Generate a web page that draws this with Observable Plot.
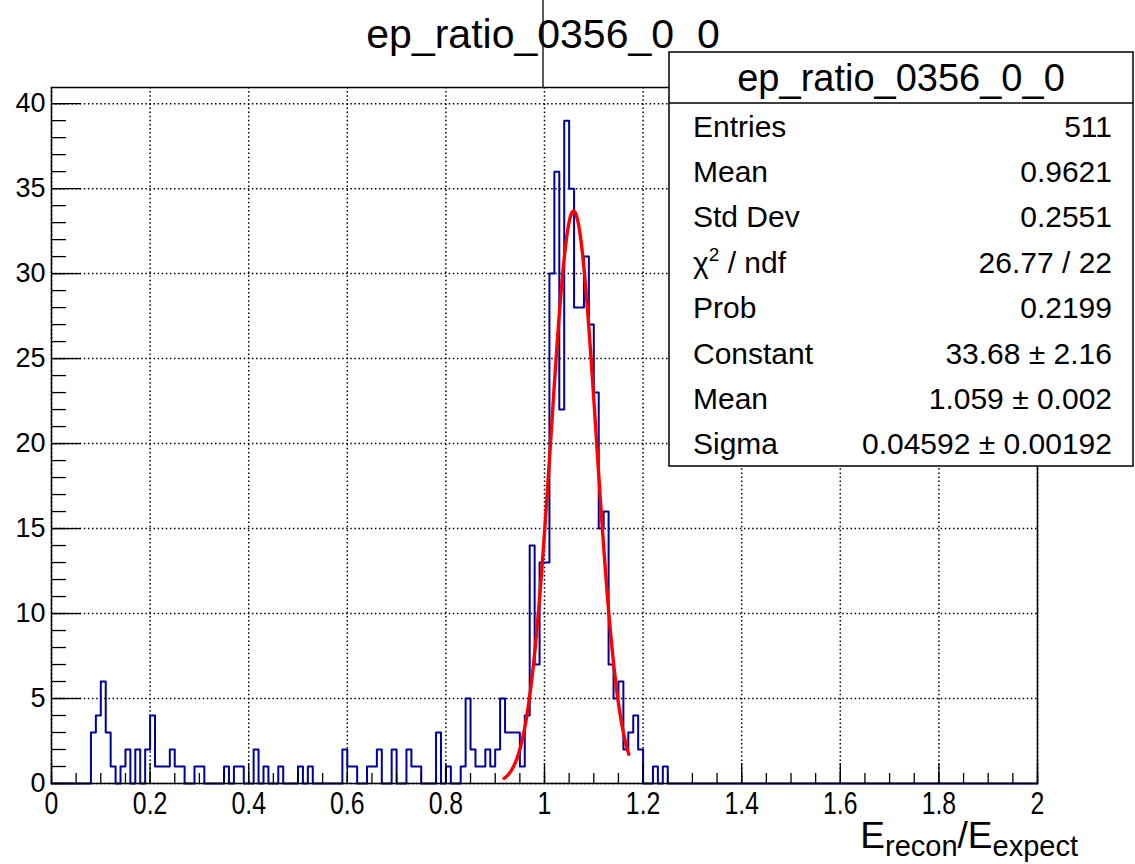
<!DOCTYPE html>
<html>
<head>
<meta charset="utf-8">
<script src="https://cdn.jsdelivr.net/npm/d3@7"></script>
<script src="https://cdn.jsdelivr.net/npm/@observablehq/plot@0.6"></script>
<style>
html,body{margin:0;padding:0;background:#fff;}
#chart{width:1135px;height:864px;overflow:hidden;}
</style>
</head>
<body>
<div id="chart"></div>
<script>
// ---- data ----
const histTitle = "ep_ratio_0356_0_0";
const xMin = 0, xMax = 2, binWidth = 0.01;
const yMax = 40.95;
// 200 bins of width 0.01 from 0 to 2
const counts = [
  0,0,0,0,0,0,0,0,3,4,   6,3,1,0,1,2,0,2,0,2,
  4,1,1,1,2,1,1,0,0,1,   1,0,0,0,0,1,0,1,1,0,
  0,2,0,1,0,0,1,0,0,0,   1,0,1,0,0,0,0,0,0,2,
  1,1,0,0,1,1,2,0,0,2,   0,0,2,1,1,0,0,0,3,0,
  1,0,0,1,5,2,1,1,2,1,   2,5,3,3,3,1,4,14,7,13,
  13,30,36,22,39,35,28,28,31,27, 23,15,16,7,5,6,2,3,4,2,
  0,0,1,0,1,0,0,0,0,0,   0,0,0,0,0,0,0,0,0,0,
  0,0,0,0,0,0,0,0,0,0,   0,0,0,0,0,0,0,0,0,0,
  0,0,0,0,0,0,0,0,0,0,   0,0,0,0,0,0,0,0,0,0,
  0,0,0,0,0,0,0,0,0,0,   0,0,0,0,0,0,0,0,0,0
];
// Gaussian fit parameters (from the stats box)
const fitConstant = 33.68, fitMean = 1.059, fitSigma = 0.04592;
const fitRange = [0.918, 1.171];

const xTickValues = [0, 0.2, 0.4, 0.6, 0.8, 1, 1.2, 1.4, 1.6, 1.8, 2];
const xTickLabels = ["0","0.2","0.4","0.6","0.8","1","1.2","1.4","1.6","1.8","2"];
const yTickValues = [0, 5, 10, 15, 20, 25, 30, 35, 40];
const yTickLabels = ["0","5","10","15","20","25","30","35","40"];

const statLabels = ["Entries","Mean","Std Dev","CHI2","Prob","Constant","Mean","Sigma"];
const statValues = ["511","0.9621","0.2551","26.77 / 22","0.2199","33.68 ± 2.16","1.059 ± 0.002","0.04592 ± 0.00192"];

// ---- derived tables ----
const histPoints = counts.map((c, i) => ({x: xMin + i * binWidth, y: c}));
histPoints.push({x: xMax, y: counts[counts.length - 1]});
const fitPoints = d3.range(0, 301).map(k => {
  const x = fitRange[0] + k * (fitRange[1] - fitRange[0]) / 300;
  return {x, y: fitConstant * Math.exp(-0.5 * ((x - fitMean) / fitSigma) ** 2)};
});
const xMinor = d3.range(0, 41).map(k => xMin + k * 0.05);
const yMinor = d3.range(0, 41);
const xLabelMap = new Map(xTickValues.map((v, i) => [v, xTickLabels[i]]));
const yLabelMap = new Map(yTickValues.map((v, i) => [v, yTickLabels[i]]));

// ---- layout ----
const W = 1135, H = 864;
const mL = 51, mR = 98, mT = 87, mB = 81;
const frameW = W - mL - mR, frameH = H - mT - mB;
const sans = "'Liberation Sans', Arial, Helvetica, sans-serif";

const plot = Plot.plot({
  width: W, height: H,
  marginLeft: mL, marginRight: mR, marginTop: mT, marginBottom: mB,
  x: {domain: [xMin, xMax]},
  y: {domain: [0, yMax]},
  style: {fontFamily: sans, background: "white", color: "black"},
  marks: [
    Plot.ruleX(xTickValues, {stroke: "black", strokeWidth: 1.5, strokeDasharray: "1.5,2.6"}),
    Plot.ruleY(yTickValues, {stroke: "black", strokeWidth: 1.5, strokeDasharray: "1.5,2.6"}),
    Plot.line(histPoints, {x: "x", y: "y", curve: "step-after", stroke: "#00009c", strokeWidth: 2}),
    Plot.line(fitPoints, {x: "x", y: "y", stroke: "#ff0000", strokeWidth: 3.4}),
    Plot.ruleX(xMinor, {insetTop: frameH - 10, stroke: "black", strokeWidth: 1.3}),
    Plot.ruleX(xTickValues, {insetTop: frameH - 20, stroke: "black", strokeWidth: 1.3}),
    Plot.ruleY(yMinor, {insetRight: frameW - 15, stroke: "black", strokeWidth: 1.3}),
    Plot.ruleY(yTickValues, {insetRight: frameW - 30, stroke: "black", strokeWidth: 1.3}),
    Plot.frame({stroke: "black", strokeWidth: 1.5}),
    Plot.axisY(yTickValues, {tickSize: 0, tickPadding: 6, fontSize: 27, fontFamily: sans, fill: "black",
      tickFormat: d => yLabelMap.get(d), label: null}),
    Plot.axisX(xTickValues, {tickSize: 0, tickPadding: 8, fontSize: 31, fontFamily: sans, fill: "black",
      tickFormat: d => xLabelMap.get(d), label: null})
  ]
});
document.getElementById("chart").appendChild(plot);

const svg = d3.select(plot);
// condense the x tick labels (narrow face in the reference)
svg.selectAll('g[aria-label="x-axis tick label"] text').each(function() {
  const w = this.getComputedTextLength();
  this.setAttribute("textLength", (w * 0.8).toFixed(1));
  this.setAttribute("lengthAdjust", "spacingAndGlyphs");
});

// stray vertical line from canvas
svg.append("line").attr("x1", 543).attr("x2", 543).attr("y1", 0).attr("y2", mT)
  .attr("stroke", "black").attr("stroke-width", 1.3);
svg.append("text").attr("x", 543).attr("y", 48).attr("text-anchor", "middle")
  .attr("font-family", sans).attr("font-size", 41).attr("fill", "black").text(histTitle);

// stats box
const bx = 669, by = 52, bw = 464, bh = 414, sep = 103;
svg.append("rect").attr("x", bx).attr("y", by).attr("width", bw).attr("height", bh)
  .attr("fill", "white").attr("stroke", "black").attr("stroke-width", 1.5);
svg.append("line").attr("x1", bx).attr("x2", bx + bw).attr("y1", sep).attr("y2", sep)
  .attr("stroke", "black").attr("stroke-width", 1.3);
svg.append("text").attr("x", bx + bw / 2).attr("y", 91).attr("text-anchor", "middle")
  .attr("font-family", sans).attr("font-size", 38).attr("fill", "black").text(histTitle);
const rowH = (by + bh - sep) / statLabels.length;
statLabels.forEach((lab, i) => {
  const cy = sep + (i + 0.5) * rowH;
  const t = svg.append("text").attr("x", bx + 24).attr("y", cy + 11).attr("text-anchor", "start")
    .attr("font-family", sans).attr("font-size", 30).attr("fill", "black");
  if (lab === "CHI2") {
    t.append("tspan").text("χ");
    t.append("tspan").attr("font-size", 19).attr("dy", -12).text("2");
    t.append("tspan").attr("dy", 12).text(" / ndf");
  } else {
    t.text(lab);
  }
  svg.append("text").attr("x", bx + bw - 21).attr("y", cy + 11).attr("text-anchor", "end")
    .attr("font-family", sans).attr("font-size", 30).attr("fill", "black").text(statValues[i]);
});

// x axis title  E_recon / E_expect
const xt = svg.append("text").attr("x", 1078).attr("y", 848).attr("text-anchor", "end")
  .attr("font-family", sans).attr("font-size", 37).attr("fill", "black");
xt.append("tspan").text("E");
xt.append("tspan").attr("font-size", 29).attr("dy", 8).text("recon");
xt.append("tspan").attr("dy", -8).text("/E");
xt.append("tspan").attr("font-size", 29).attr("dy", 8).text("expect");
</script>
</body>
</html>
